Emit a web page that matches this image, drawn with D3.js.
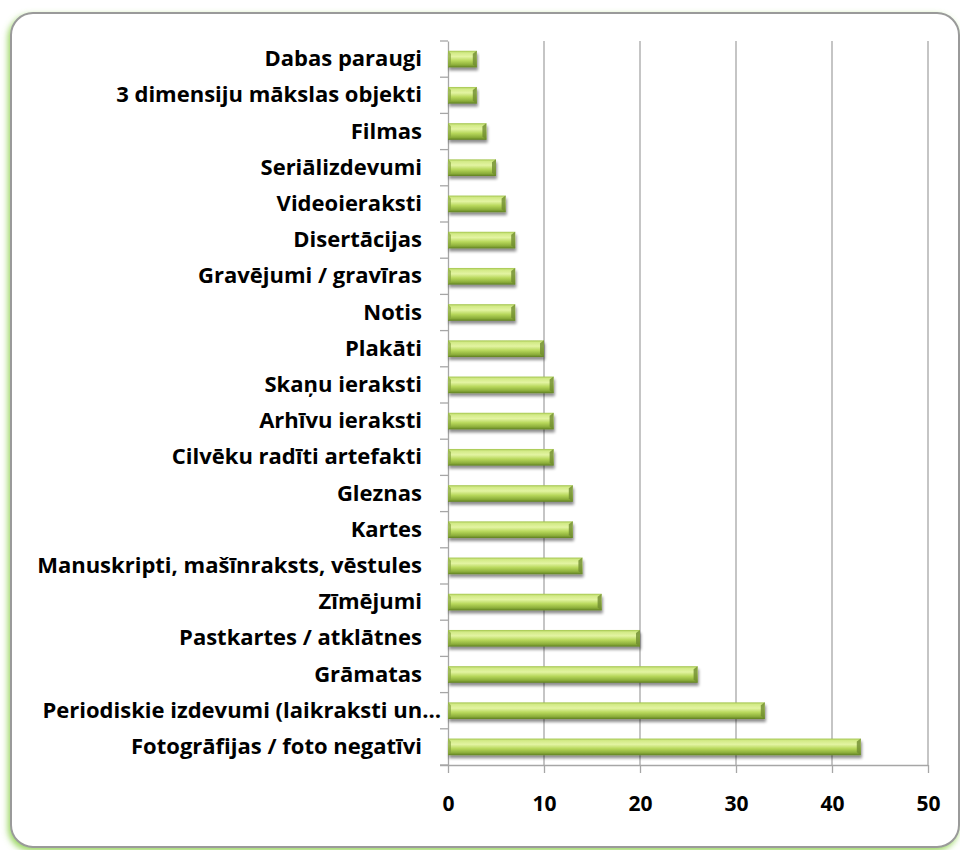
<!DOCTYPE html>
<html>
<head>
<meta charset="utf-8">
<script src="https://cdn.jsdelivr.net/npm/d3@7"></script>
<style>
  body { margin: 0; background: #fff; }
  svg { display: block; }
</style>
</head>
<body>
<svg width="960" height="850"></svg>
<script>
// категории сверху вниз
const categories = [
    "Dabas paraugi",
    "3 dimensiju mākslas objekti",
    "Filmas",
    "Seriālizdevumi",
    "Videoieraksti",
    "Disertācijas",
    "Gravējumi / gravīras",
    "Notis",
    "Plakāti",
    "Skaņu ieraksti",
    "Arhīvu ieraksti",
    "Cilvēku radīti artefakti",
    "Gleznas",
    "Kartes",
    "Manuskripti, mašīnraksts, vēstules",
    "Zīmējumi",
    "Pastkartes / atklātnes",
    "Grāmatas",
    "Periodiskie izdevumi (laikraksti un…",
    "Fotogrāfijas / foto negatīvi"
];

const values = [3, 3, 4, 5, 6, 7, 7, 7, 10, 11, 11, 11, 13, 13, 14, 16, 20, 26, 33, 43];

const xTicks = [0, 10, 20, 30, 40, 50];

const svg = d3.select("svg");

const attr_area = {
    left: 448,
    right: 928,
    top: 41,
    bottom: 765
};

const font = "'Open Sans', Lato, sans-serif";

// фон - скругленная рамка с зеленой тенью
const defs = svg.append("defs");

const glow = defs.append("filter")
    .attr("id", "glow")
    .attr("x", "-5%").attr("y", "-5%")
    .attr("width", "110%").attr("height", "110%");
glow.append("feGaussianBlur")
    .attr("in", "SourceAlpha")
    .attr("stdDeviation", 3)
    .attr("result", "blur");
glow.append("feOffset")
    .attr("dx", -2).attr("dy", 3)
    .attr("result", "off");
glow.append("feFlood").attr("flood-color", "#8fd14f").attr("flood-opacity", 0.9);
glow.append("feComposite").attr("in2", "off").attr("operator", "in");
const gm = glow.append("feMerge");
gm.append("feMergeNode");
gm.append("feMergeNode").attr("in", "SourceGraphic");

svg.append("rect")
    .attr("x", 11)
    .attr("y", 13)
    .attr("width", 948)
    .attr("height", 834)
    .attr("rx", 22)
    .attr("fill", "#fff")
    .attr("stroke", "#9a9a9a")
    .attr("stroke-width", 2)
    .attr("filter", "url(#glow)");

// градиент для столбиков
const grad = defs.append("linearGradient")
    .attr("id", "barGrad")
    .attr("x1", 0).attr("y1", 0).attr("x2", 0).attr("y2", 1);
[
    ["0%", "#a2c44c"],
    ["12%", "#d2ea86"],
    ["35%", "#e3f4a2"],
    ["60%", "#b8d85c"],
    ["85%", "#8cae3a"],
    ["100%", "#5f7f22"]
].forEach(s => grad.append("stop").attr("offset", s[0]).attr("stop-color", s[1]));

const shadow = defs.append("filter")
    .attr("id", "shadow")
    .attr("x", "-5%").attr("y", "-30%")
    .attr("width", "115%").attr("height", "180%");
shadow.append("feGaussianBlur").attr("in", "SourceAlpha").attr("stdDeviation", 1.8).attr("result", "b");
shadow.append("feOffset").attr("dx", 1).attr("dy", 3).attr("result", "o");
shadow.append("feComponentTransfer").append("feFuncA").attr("type", "linear").attr("slope", 0.45);
const sm = shadow.append("feMerge");
sm.append("feMergeNode");
sm.append("feMergeNode").attr("in", "SourceGraphic");

// шкалы
const scaleX = d3.scaleLinear()
    .domain([0, 50])
    .range([attr_area.left, attr_area.right]);

const scaleY = d3.scaleBand()
    .domain(categories)
    .range([attr_area.top, attr_area.bottom])
    .paddingInner(0.54)
    .paddingOuter(0.27);

const band = (attr_area.bottom - attr_area.top) / categories.length;

// сетка
svg.append("g")
    .selectAll("line")
    .data(xTicks.filter(d => d > 0))
    .enter()
    .append("line")
    .attr("x1", d => scaleX(d))
    .attr("x2", d => scaleX(d))
    .attr("y1", attr_area.top)
    .attr("y2", attr_area.bottom)
    .attr("stroke", "#a6a6a6")
    .attr("stroke-width", 1.3);

// ось X
const axisX = d3.axisBottom(scaleX)
    .tickValues(xTicks)
    .tickSize(8)
    .tickPadding(23);

const gx = svg.append("g")
    .attr("transform", `translate(0, ${attr_area.bottom})`)
    .call(axisX);
gx.select(".domain").attr("stroke", "#a6a6a6").attr("stroke-width", 1.3)
    .attr("d", `M${attr_area.left - 8},0.5H${attr_area.right}`);
gx.selectAll(".tick line").attr("stroke", "#a6a6a6").attr("stroke-width", 1.3);
gx.selectAll("text")
    .attr("fill", "#000")
    .style("font-family", font)
    .style("font-weight", "bold")
    .style("font-size", "21px");

// ось Y
const axisY = d3.axisLeft(scaleY).tickSize(0).tickPadding(26);
const gy = svg.append("g")
    .attr("transform", `translate(${attr_area.left}, 0)`)
    .call(axisY);
gy.select(".domain").attr("stroke", "#a6a6a6").attr("stroke-width", 1.3);
gy.selectAll("text")
    .attr("fill", "#000")
    .style("font-family", font)
    .style("font-weight", "bold")
    .style("font-size", "22px");
// последняя длинная подпись ближе к оси
gy.selectAll("text")
    .filter(d => d.endsWith("…"))
    .attr("x", -7);

// деления на оси Y по границам категорий
svg.append("g")
    .selectAll("line")
    .data(d3.range(categories.length + 1))
    .enter()
    .append("line")
    .attr("x1", attr_area.left - 8)
    .attr("x2", attr_area.left)
    .attr("y1", i => attr_area.top + i * band)
    .attr("y2", i => attr_area.top + i * band)
    .attr("stroke", "#a6a6a6")
    .attr("stroke-width", 1.3);

// столбики
const bars = svg.append("g")
    .selectAll("g.bar")
    .data(categories.map((c, i) => ({ label: c, value: values[i] })))
    .enter()
    .append("g")
    .attr("class", "bar")
    .attr("filter", "url(#shadow)");

bars.append("rect")
    .attr("x", scaleX(0))
    .attr("y", d => scaleY(d.label))
    .attr("width", d => scaleX(d.value) - scaleX(0))
    .attr("height", scaleY.bandwidth())
    .attr("fill", "url(#barGrad)");

// фаска на правом торце
bars.append("path")
    .attr("d", d => {
        const x = scaleX(d.value), y = scaleY(d.label), h = scaleY.bandwidth();
        return `M${x},${y} L${x},${y + h} L${x - 4},${y + h - 3} L${x - 4},${y + 3} Z`;
    })
    .attr("fill", "#6f8c30")
    .attr("opacity", 0.8);
bars.append("path")
    .attr("d", d => {
        const x0 = scaleX(0), y = scaleY(d.label), h = scaleY.bandwidth();
        return `M${x0},${y} L${x0},${y + h} L${x0 + 3},${y + h - 3} L${x0 + 3},${y + 3} Z`;
    })
    .attr("fill", "#86a43e")
    .attr("opacity", 0.7);
</script>
</body>
</html>
